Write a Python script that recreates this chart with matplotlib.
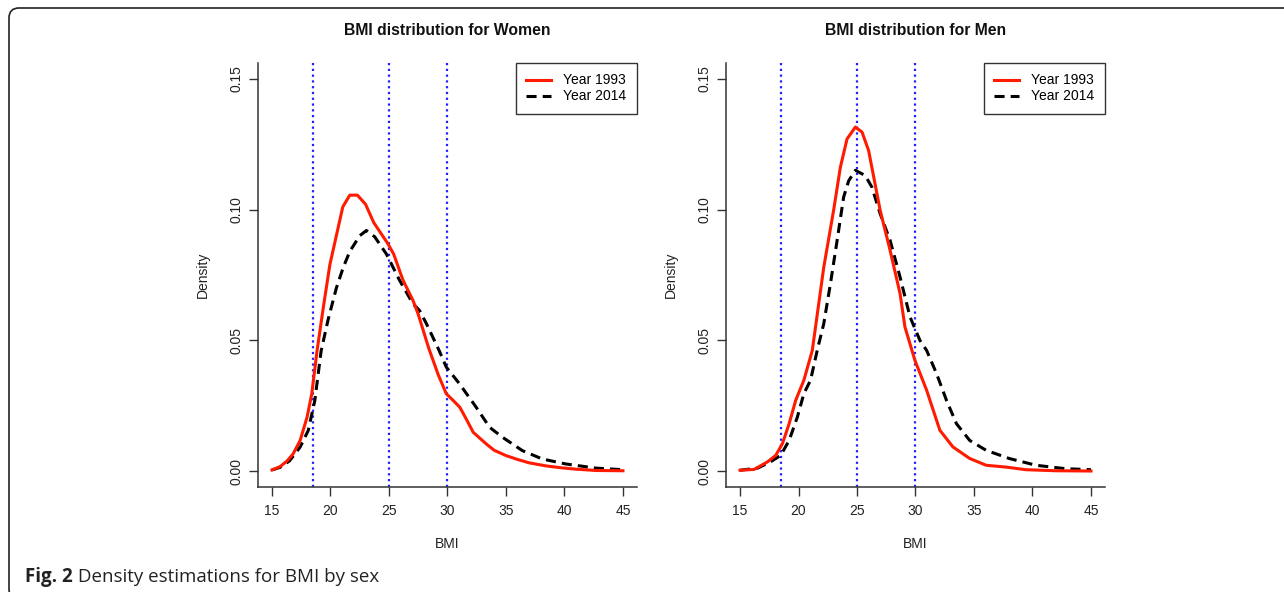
import numpy as np
import matplotlib
matplotlib.use("Agg")
import matplotlib.pyplot as plt
from matplotlib.patches import FancyBboxPatch
from matplotlib.transforms import IdentityTransform

# BMI density curves
women_1993_x = [15, 15.7, 16.3, 16.8, 17.4, 18.0, 18.4, 18.85, 19.4, 19.95, 20.6, 21.05, 21.65,
                22.3, 23.0, 23.7, 24.3, 24.9, 25.4, 26.2, 27.05, 27.5, 28.4, 29.2, 29.9, 30.5,
                31.05, 31.6, 32.2, 33.3, 34.0, 35.0, 36.0, 37.0, 38.5, 39.8, 41.0, 42.7, 45]
women_1993_y = [0.0005, 0.0018, 0.004, 0.0066, 0.0117, 0.0207, 0.0296, 0.046, 0.063, 0.079,
                0.092, 0.101, 0.1055, 0.1055, 0.102, 0.095, 0.091, 0.087, 0.083, 0.073, 0.0653,
                0.060, 0.047, 0.037, 0.0296, 0.027, 0.0245, 0.020, 0.0149, 0.0105, 0.008, 0.006,
                0.0045, 0.0032, 0.002, 0.0013, 0.0008, 0.0003, 0.0002]

women_2014_x = [15, 15.7, 16.5, 17.4, 18.1, 18.66, 19.2, 19.8, 20.5, 21.1, 21.65, 22.5, 23.07,
                23.78, 24.78, 25.9, 27.05, 27.6, 28.2, 29.3, 29.9, 31.03, 32.45, 33.6, 34.7,
                36.4, 38.1, 40.1, 42.7, 45]
women_2014_y = [0.0005, 0.0015, 0.004, 0.0092, 0.0156, 0.027, 0.046, 0.058, 0.070, 0.078, 0.084,
                0.090, 0.092, 0.0896, 0.083, 0.073, 0.064, 0.0615, 0.0564, 0.046, 0.0398, 0.0334,
                0.0245, 0.0168, 0.013, 0.0079, 0.0047, 0.0028, 0.0012, 0.0006]

men_1993_x = [15, 16.2, 17.35, 18.06, 18.63, 19.2, 19.76, 20.46, 21.18, 22.16, 23.0, 23.58,
              24.15, 24.86, 25.43, 25.99, 26.98, 27.83, 28.68, 29.1, 29.95, 30.95, 32.08, 33.2,
              34.63, 36.04, 37.74, 39.44, 42, 45]
men_1993_y = [0.0004, 0.0007, 0.0036, 0.0061, 0.0106, 0.0182, 0.0271, 0.0348, 0.0462, 0.078,
              0.0997, 0.1162, 0.127, 0.1315, 0.1296, 0.1226, 0.0997, 0.0844, 0.0679, 0.0551,
              0.0424, 0.031, 0.0157, 0.0093, 0.0049, 0.0023, 0.0016, 0.0006, 0.0002, 0.0001]

men_2014_x = [15, 16.5, 17.6, 18.48, 19.2, 19.9, 20.46, 21.03, 21.6, 22.16, 22.73, 23.3, 23.86,
              24.29, 24.86, 25.7, 26.27, 26.98, 27.83, 28.68, 29.53, 30.38, 30.95, 31.8, 32.65,
              33.5, 34.63, 36.04, 38.0, 40.3, 42.8, 45]
men_2014_y = [0.0004, 0.0012, 0.0036, 0.0061, 0.0118, 0.0207, 0.0297, 0.0348, 0.0462, 0.0564,
              0.0717, 0.0882, 0.1048, 0.111, 0.115, 0.113, 0.1086, 0.0984, 0.0882, 0.0742,
              0.059, 0.050, 0.0462, 0.0373, 0.0271, 0.0182, 0.0118, 0.008, 0.0049, 0.0023,
              0.001, 0.0006]

cutoffs = [18.5, 25, 30]
x_ticks = [15, 20, 25, 30, 35, 40, 45]
y_ticks = [0.00, 0.05, 0.10, 0.15]
y_tick_labels = ["0.00", "0.05", "0.10", "0.15"]
series_labels = ["Year 1993", "Year 2014"]

plt.rcParams['font.family'] = ['Liberation Sans', 'DejaVu Sans']

fig = plt.figure(figsize=(12.84, 5.92), dpi=100)

panels = [
    ("BMI distribution for Women", 0.2009, women_1993_x, women_1993_y, women_2014_x, women_2014_y),
    ("BMI distribution for Men", 0.5654, men_1993_x, men_1993_y, men_2014_x, men_2014_y),
]

axes = []
for title, left, x93, y93, x14, y14 in panels:
    ax = fig.add_axes([left, 0.1774, 0.2952, 0.7162])
    axes.append(ax)
    for c in cutoffs:
        ax.axvline(c, color='#1f1fff', lw=1.6, dashes=(1, 1.6), zorder=1)
    ax.plot(x93, y93, color='#ff1a00', lw=2.2, label=series_labels[0], zorder=3)
    ax.plot(x14, y14, color='black', lw=2.2, dashes=(3.3, 2.0), label=series_labels[1], zorder=2)

    ax.set_xlim(13.8, 46.2)
    ax.set_ylim(-0.006, 0.156)
    ax.set_xticks(x_ticks)
    ax.set_yticks(y_ticks)
    ax.set_yticklabels(y_tick_labels, rotation=90, va='center')
    ax.tick_params(axis='both', length=6.5, width=1.0, color='#333333', labelsize=10,
                   labelcolor='#222222')
    ax.tick_params(axis='x', pad=5.5)
    ax.tick_params(axis='y', pad=4)
    for s in ['top', 'right']:
        ax.spines[s].set_visible(False)
    for s in ['left', 'bottom']:
        ax.spines[s].set_color('#333333')
        ax.spines[s].set_linewidth(1.1)

    ax.set_xlabel("BMI", fontsize=10, color='#222222')
    ax.xaxis.set_label_coords(0.5, -0.134)
    ax.xaxis.label.set_va('center')
    ax.set_ylabel("Density", fontsize=10, color='#222222')
    ax.yaxis.set_label_coords(-0.145, 0.5)
    ax.yaxis.label.set_va('center')

    ax.text(0.5, 1.0755, title, transform=ax.transAxes, ha='center', va='center',
            fontsize=11.3, fontweight='bold', color='#111111')

    leg = ax.legend(loc='upper right', borderaxespad=0, fontsize=10, fancybox=False,
                    handlelength=1.8, handletextpad=0.9, borderpad=0.75, labelspacing=0.15,
                    framealpha=1)
    leg.get_frame().set_edgecolor('#333333')
    leg.get_frame().set_linewidth(1.0)

# caption
cap = fig.text(25 / 1284, 1 - 577 / 592, "Fig. 2", fontsize=13.5, fontweight='bold',
               family=['Open Sans', 'DejaVu Sans'], color='#222222', va='center')
axes[0].annotate(" Density estimations for BMI by sex", xy=(1, 0.5), xycoords=cap,
                 fontsize=13.5, family=['Open Sans', 'DejaVu Sans'], color='#222222',
                 va='center', annotation_clip=False)

# rounded frame around the figure
frame = FancyBboxPatch((9, -7), 1300, 591, boxstyle="round,pad=0,rounding_size=10",
                       transform=IdentityTransform(), fill=False, edgecolor='#222222',
                       linewidth=1.2)
fig.add_artist(frame)

fig.savefig("out.png", dpi=100)
